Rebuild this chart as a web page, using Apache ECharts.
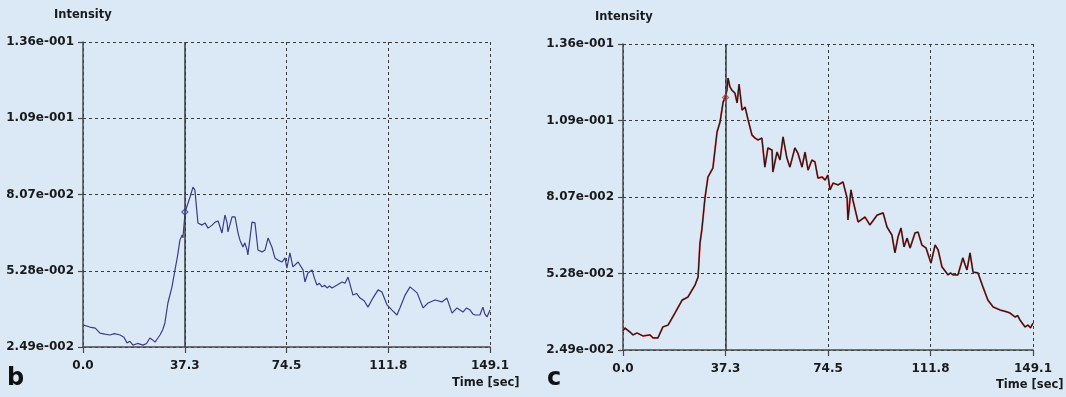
<!DOCTYPE html>
<html><head><meta charset="utf-8">
<script src="https://cdn.jsdelivr.net/npm/echarts@6/dist/echarts.min.js"></script>
<style>html,body{margin:0;padding:0;background:#dbe9f7;}#c{width:1066px;height:397px;}</style>
</head><body><div id="c"></div>
<script>
const xTickLabels = ['0.0','37.3','74.5','111.8','149.1'];
const yTickLabels = ['2.49e-002','5.28e-002','8.07e-002','1.09e-001','1.36e-001'];
const xMin = 0, xMax = 149.1;
const yMin = 0.0249, yMax = 0.1365;
const cursorTime = 37.3;
const cursorB = 0.0743;
const cursorC = 0.1170;
const seriesB = [[0,0.0330],[0.7,0.0326],[2.5,0.0322],[4.5,0.0318],[6.2,0.0300],[8,0.0296],[9.9,0.0293],[11.5,0.0298],[13.6,0.0293],[15,0.0285],[16.1,0.0264],[17.2,0.0270],[18.3,0.0256],[20,0.0262],[22.0,0.0256],[23.3,0.0262],[24.5,0.0282],[25.5,0.0275],[26.4,0.0267],[27.3,0.0280],[28.2,0.0293],[29.2,0.0312],[30.0,0.0337],[31.1,0.0410],[32.6,0.0469],[33.7,0.0531],[34.6,0.0580],[35.5,0.0640],[36.3,0.0659],[36.6,0.0648],[37.4,0.0743],[38.1,0.0743],[39.2,0.0798],[40.3,0.0834],[41.0,0.0823],[42.1,0.0703],[43.6,0.0695],[44.7,0.0703],[45.8,0.0684],[47.3,0.0695],[48.4,0.0706],[49.5,0.0710],[50.9,0.0666],[52.0,0.0732],[52.8,0.0703],[53.1,0.0670],[54.6,0.0725],[55.7,0.0725],[56.8,0.0666],[57.5,0.0640],[58.6,0.0615],[59.3,0.0630],[60.1,0.0604],[60.4,0.0586],[61.9,0.0706],[63.0,0.0703],[64.1,0.0604],[65.6,0.0597],[66.7,0.0604],[67.8,0.0648],[69.2,0.0615],[70.3,0.0575],[71.4,0.0567],[72.9,0.0560],[74.0,0.0575],[74.7,0.0538],[75.8,0.0593],[76.9,0.0542],[78.8,0.0560],[80.6,0.0531],[81.3,0.0487],[82.4,0.0520],[83.9,0.0531],[84.8,0.0500],[85.7,0.0476],[86.6,0.0482],[87.6,0.0469],[88.5,0.0475],[89.4,0.0465],[90.3,0.0472],[91.2,0.0465],[93.1,0.0476],[94.9,0.0487],[96.0,0.0482],[97.1,0.0505],[98.9,0.0439],[100.2,0.0445],[101.5,0.0428],[103.0,0.0418],[104.4,0.0395],[106.2,0.0428],[108.1,0.0458],[109.5,0.0450],[111.4,0.0403],[113.2,0.0384],[115.0,0.0366],[116.1,0.0392],[118.0,0.0439],[119.8,0.0469],[122.4,0.0447],[124.6,0.0392],[126.4,0.0410],[129.0,0.0421],[131.5,0.0414],[133.3,0.0428],[135.2,0.0373],[137.0,0.0392],[139.2,0.0377],[140.5,0.0392],[141.8,0.0384],[142.8,0.0370],[143.6,0.0366],[145.4,0.0366],[146.5,0.0395],[147.2,0.0370],[148.0,0.0359],[149.1,0.0384]];
const seriesC = [[0,0.0320],[0.7,0.0329],[2.5,0.0315],[3.6,0.0304],[5.1,0.0311],[7.3,0.0300],[9.8,0.0304],[10.9,0.0293],[12.7,0.0293],[14.5,0.0333],[16.4,0.0340],[18.9,0.0384],[21.5,0.0431],[23.6,0.0442],[26.2,0.0486],[27.3,0.0515],[28.0,0.0639],[28.7,0.0690],[29.8,0.0803],[30.9,0.0880],[32.7,0.0913],[34.2,0.1044],[35.3,0.1081],[36.4,0.1153],[37.1,0.1168],[37.8,0.1197],[38.2,0.1241],[38.9,0.1208],[39.6,0.1197],[40.7,0.1186],[41.5,0.1150],[42.2,0.1219],[43.3,0.1124],[44.4,0.1135],[45.5,0.1088],[46.9,0.1033],[48.0,0.1022],[49.1,0.1015],[50.5,0.1022],[51.6,0.0916],[52.7,0.0986],[54.2,0.0978],[54.5,0.0898],[56.0,0.0971],[57.1,0.0942],[58.2,0.1026],[59.6,0.0949],[60.7,0.0916],[62.5,0.0986],[63.6,0.0967],[65.1,0.0916],[66.2,0.0971],[67.3,0.0905],[68.7,0.0942],[69.8,0.0935],[70.9,0.0876],[72.4,0.0880],[73.5,0.0869],[74.5,0.0887],[75.3,0.0833],[76.4,0.0858],[78.2,0.0851],[80.0,0.0862],[81.5,0.0803],[81.8,0.0723],[82.9,0.0833],[83.6,0.0796],[85.5,0.0716],[88.0,0.0734],[89.8,0.0705],[92.4,0.0741],[94.6,0.0749],[96.0,0.0698],[97.8,0.0668],[98.9,0.0603],[100.0,0.0661],[101.1,0.0694],[102.2,0.0625],[103.3,0.0657],[104.4,0.0621],[106.2,0.0676],[107.3,0.0679],[108.7,0.0632],[110.2,0.0621],[110.9,0.0621],[112.0,0.0566],[113.5,0.0632],[114.6,0.0614],[116.0,0.0552],[118.2,0.0523],[119.1,0.0530],[120.0,0.0523],[121.8,0.0523],[123.6,0.0585],[124.4,0.0560],[125.1,0.0541],[126.2,0.0603],[127.3,0.0533],[129.1,0.0530],[130.9,0.0479],[132.7,0.0431],[134.6,0.0406],[137.1,0.0395],[139.6,0.0388],[140.7,0.0384],[142.6,0.0369],[143.5,0.0375],[144.4,0.0358],[146.2,0.0333],[147.3,0.0340],[148.2,0.0330],[149.1,0.0347]];

const FONT = 'DejaVu Sans';
const AX = '#4a4a4a';
const labelStyle = {fontFamily: FONT, fontWeight: 'bold', fontSize: 12, color: '#1a1a1a'};
const dashed = {color: '#3a3a3a', type: [3, 3], width: 1};

function xAxisFor(gi) {
  return {
    type: 'value', gridIndex: gi, min: xMin, max: xMax, interval: (xMax - xMin) / 4,
    axisLine: {show: true, onZero: false, lineStyle: {color: AX, width: 1.5}},
    axisTick: {show: true, length: 6, lineStyle: {color: AX, width: 1.2}},
    axisLabel: Object.assign({margin: 13, formatter: (v) => xTickLabels[Math.round((v - xMin) / ((xMax - xMin) / 4))]}, labelStyle),
    splitLine: {show: true, lineStyle: dashed}
  };
}
function yAxesFor(gi) {
  return [
    {type: 'value', gridIndex: gi, min: yMin, max: yMax, show: false, splitLine: {show: false}},
    {type: 'value', gridIndex: gi, min: 0, max: 4, interval: 1, position: 'left',
     axisLine: {show: true, onZero: false, lineStyle: {color: AX, width: 1.5}},
     axisTick: {show: true, length: 5, lineStyle: {color: AX, width: 1.2}},
     axisLabel: Object.assign({margin: 9, formatter: (v) => yTickLabels[Math.round(v)]}, labelStyle),
     splitLine: {show: true, lineStyle: dashed}}
  ];
}
const cursorLine = {
  silent: true, symbol: 'none', label: {show: false},
  lineStyle: {color: '#3a3a3a', type: 'solid', width: 1.5},
  data: [{xAxis: cursorTime}]
};

const chart = echarts.init(document.getElementById('c'), null, {renderer: 'canvas'});
chart.setOption({
  backgroundColor: '#dbe9f7',
  animation: false,
  grid: [
    {left: 83, top: 42, width: 407, height: 305},
    {left: 623, top: 44, width: 410, height: 306}
  ],
  xAxis: [xAxisFor(0), xAxisFor(1)],
  yAxis: [...yAxesFor(0), ...yAxesFor(1)],
  series: [
    {type: 'line', xAxisIndex: 0, yAxisIndex: 0, data: seriesB, symbol: 'none',
     lineStyle: {color: '#3b3b8e', width: 1.2}, markLine: cursorLine, z: 3},
    {type: 'scatter', xAxisIndex: 0, yAxisIndex: 0, data: [[cursorTime, cursorB]], symbol: 'diamond', symbolSize: 6,
     itemStyle: {color: '#dbe9f7', borderColor: '#2a2acc', borderWidth: 1.2}, z: 4},
    {type: 'line', xAxisIndex: 1, yAxisIndex: 2, data: seriesC, symbol: 'none',
     lineStyle: {color: '#e8524a', width: 1.9}, markLine: cursorLine, z: 3},
    {type: 'line', xAxisIndex: 1, yAxisIndex: 2, data: seriesC, symbol: 'none',
     lineStyle: {color: '#1e1a1a', width: 1.2}, z: 4},
    {type: 'scatter', xAxisIndex: 1, yAxisIndex: 2, data: [[cursorTime, cursorC]], symbol: 'diamond', symbolSize: 6,
     itemStyle: {color: 'transparent', borderColor: '#cc3333', borderWidth: 1.2}, z: 5}
  ],
  graphic: [
    {type: 'text', left: 54, top: 9, style: {text: 'Intensity', font: 'bold 11.5px "DejaVu Sans"', fill: '#1a1a1a'}},
    {type: 'text', left: 595, top: 11, style: {text: 'Intensity', font: 'bold 11.5px "DejaVu Sans"', fill: '#1a1a1a'}},
    {type: 'text', left: 452, top: 377, style: {text: 'Time [sec]', font: 'bold 11.5px "DejaVu Sans"', fill: '#1a1a1a'}},
    {type: 'text', left: 996, top: 379, style: {text: 'Time [sec]', font: 'bold 11.5px "DejaVu Sans"', fill: '#1a1a1a'}},
    {type: 'text', left: 7, top: 367, style: {text: 'b', font: 'bold 24px "DejaVu Sans"', fill: '#111'}},
    {type: 'text', left: 547, top: 367, style: {text: 'c', font: 'bold 24px "DejaVu Sans"', fill: '#111'}}
  ]
});
</script></body></html>
